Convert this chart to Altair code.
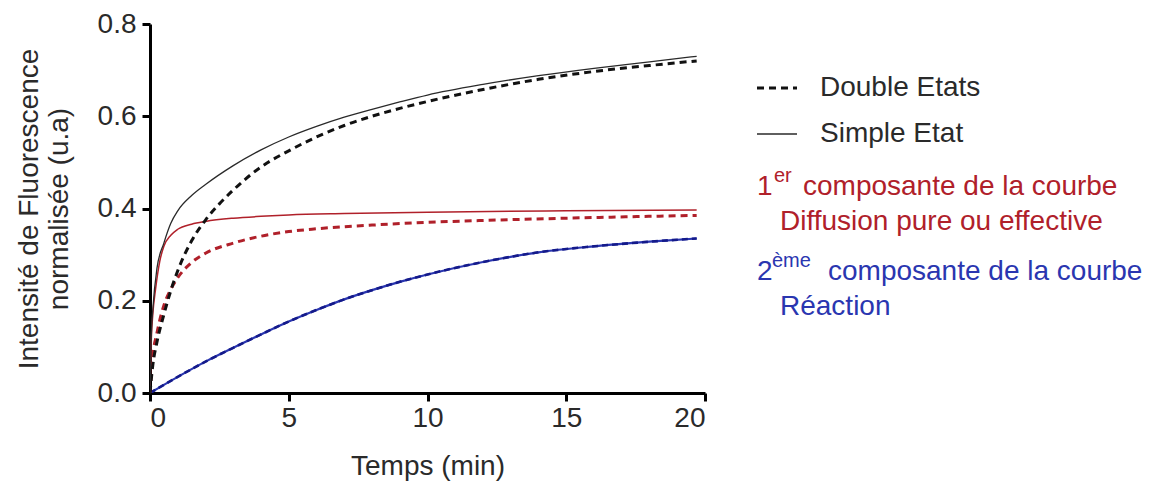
import altair as alt
import pandas as pd

# ---- data ----
t_simple = [0, 0.05, 0.1, 0.25, 0.5, 0.75, 1, 1.5, 2, 3, 4, 5, 6, 7, 8, 9, 10, 12, 14, 16, 18, 19.7]
v_simple = [0, 0.13, 0.18, 0.27, 0.325, 0.368, 0.395, 0.428, 0.452, 0.493, 0.527, 0.555, 0.578, 0.598, 0.615, 0.631, 0.646, 0.669, 0.688, 0.704, 0.718, 0.730]

t_double = [0, 0.1, 0.25, 0.5, 0.75, 1, 1.5, 2, 2.5, 3, 4, 5, 6, 7, 8, 9, 10, 12, 14, 16, 18, 19.7]
v_double = [0, 0.06, 0.11, 0.17, 0.222, 0.265, 0.33, 0.375, 0.41, 0.44, 0.49, 0.525, 0.555, 0.58, 0.60, 0.617, 0.632, 0.658, 0.680, 0.697, 0.710, 0.720]

t_red_solid = [0, 0.05, 0.1, 0.2, 0.35, 0.5, 0.75, 1, 1.5, 2, 3, 4, 5, 7, 10, 15, 19.7]
v_red_solid = [0, 0.12, 0.17, 0.225, 0.285, 0.318, 0.342, 0.355, 0.366, 0.372, 0.379, 0.383, 0.386, 0.389, 0.392, 0.395, 0.397]

t_red_dash = [0, 0.1, 0.25, 0.5, 0.75, 1, 1.5, 2, 3, 4, 5, 6, 8, 10, 12, 15, 19.7]
v_red_dash = [0, 0.08, 0.13, 0.19, 0.225, 0.25, 0.283, 0.303, 0.325, 0.34, 0.35, 0.356, 0.364, 0.37, 0.374, 0.379, 0.385]

t_blue = [0, 1, 2, 3, 4, 5, 6, 7, 8, 9, 10, 12, 14, 16, 18, 19.7]
v_blue = [0, 0.035, 0.068, 0.098, 0.127, 0.155, 0.18, 0.203, 0.223, 0.241, 0.257, 0.284, 0.305, 0.318, 0.328, 0.335]

x_ticks = [0, 5, 10, 15, 20]
y_ticks = [0.0, 0.2, 0.4, 0.6, 0.8]

FONT = "Liberation Sans"
FS = 28
BLACK = "#111111"
TXT = "#2a2a2a"
RED = "#b0202a"
BLUE = "#2a36b0"
NAVY = "#141a8a"

xs = alt.Scale(domain=[0, 20], nice=False)
ys = alt.Scale(domain=[0, 0.8], nice=False)

x_axis = alt.Axis(values=x_ticks, format="d", title="Temps (min)", labelPadding=3, titlePadding=20)
y_axis = alt.Axis(values=y_ticks, format=".1f",
                  title=["Intensité de Fluorescence", "normalisée (u.a)"],
                  labelPadding=6, titlePadding=24)


def series(t, v, color, width, dash=None):
    df = pd.DataFrame({"t": t, "v": v})
    kw = dict(color=color, strokeWidth=width, interpolate="monotone", clip=True)
    if dash:
        kw["strokeDash"] = dash
    return alt.Chart(df).mark_line(**kw).encode(
        x=alt.X("t:Q", scale=xs, axis=x_axis),
        y=alt.Y("v:Q", scale=ys, axis=y_axis),
    )


one = pd.DataFrame({"a": [0]})


def label(text, x, y, color, size=FS):
    return alt.Chart(one).mark_text(text=text, align="left", baseline="middle",
                                    font=FONT, fontSize=size, color=color).encode(
        x=alt.value(x), y=alt.value(y))


def sample(y, color, width, dash=None):
    kw = dict(color=color, strokeWidth=width)
    if dash:
        kw["strokeDash"] = dash
    return alt.Chart(one).mark_rule(**kw).encode(
        x=alt.value(607), x2=alt.value(647), y=alt.value(y))


layers = [
    series(t_blue, v_blue, BLUE, 2.2),
    series(t_blue, v_blue, NAVY, 2.6, dash=[6, 4]),
    series(t_red_dash, v_red_dash, RED, 3, dash=[7, 5]),
    series(t_red_solid, v_red_solid, RED, 1.5),
    series(t_double, v_double, BLACK, 3, dash=[7, 5]),
    series(t_simple, v_simple, TXT, 1.3),
    # legend
    sample(64, BLACK, 3, dash=[7, 5]),
    label("Double Etats", 670, 64, TXT),
    sample(110, TXT, 1.5),
    label("Simple Etat", 670, 110, TXT),
    label("1", 607, 163, RED),
    label("er", 624, 152, RED, 20),
    label("composante de la courbe", 653, 163, RED),
    label("Diffusion pure ou effective", 630, 198, RED),
    label("2", 607, 248, BLUE),
    label("ème", 622, 237, BLUE, 20),
    label("composante de la courbe", 678, 248, BLUE),
    label("Réaction", 630, 283, BLUE),
]

chart = alt.layer(*layers).properties(
    width=555, height=369,
    autosize=alt.AutoSizeParams(type="none"),
    padding={"left": 142, "top": 16, "right": 455, "bottom": 90},
).configure_view(stroke=None).configure_axis(
    grid=False, domainColor="black", domainWidth=3, tickColor="black", tickWidth=3,
    tickSize=8, labelFont=FONT, labelFontSize=FS, labelColor=TXT,
    titleFont=FONT, titleFontSize=FS, titleFontWeight="normal", titleColor=TXT,
)

chart.save("out.html", embed_options={"renderer": "svg", "actions": False})
